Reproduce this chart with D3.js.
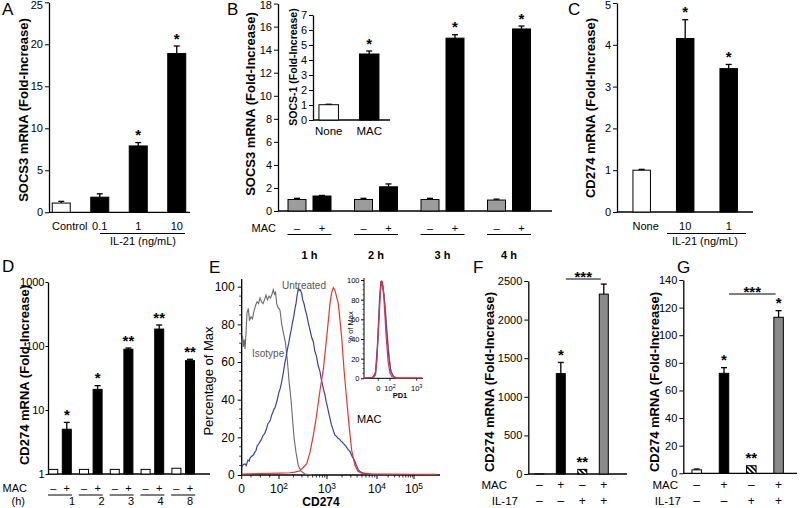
<!DOCTYPE html>
<html><head><meta charset="utf-8">
<script src="https://cdn.jsdelivr.net/npm/d3@7"></script>
<style>
body{margin:0;background:#fff;}
svg{display:block;}
</style></head><body>
<svg id="chart" width="800" height="508"></svg>
<script>
// ================= DATA =================
// Panel A
const aCategories = ["Control", "0.1", "1", "10"];
const aValues = [1.1, 1.8, 7.9, 18.9];
const aErrors = [0.2, 0.4, 0.4, 0.9];
const aStars = ["", "", "*", "*"];
const aTicks = [0, 5, 10, 15, 20, 25];

// Panel B
const bTimes = ["1 h", "2 h", "3 h", "4 h"];
const macSigns = ["–", "+"];
const bNoMac = [1.0, 1.0, 1.0, 0.95];
const bNoMacErr = [0.1, 0.1, 0.1, 0.08];
const bWithMac = [1.3, 2.1, 15.0, 15.8];
const bWithMacErr = [0.05, 0.25, 0.3, 0.25];
const bStars = ["", "", "*", "*"];
const bTicks = [0, 2, 4, 6, 8, 10, 12, 14, 16, 18];
const bInsetCategories = ["None", "MAC"];
const bInsetValues = [1.02, 4.4];
const bInsetErrors = [0.03, 0.2];
const bInsetStars = ["", "*"];
const bInsetTicks = [0, 1, 2, 3, 4, 5, 6, 7];

// Panel C
const cCategories = ["None", "10", "1"];
const cValues = [1.0, 4.15, 3.43];
const cErrors = [0.02, 0.45, 0.1];
const cStars = ["", "*", "*"];
const cTicks = [0, 1, 2, 3, 4, 5];

// Panel D
const dHours = ["1", "2", "3", "4", "8"];
const dNoMac = [1.18, 1.18, 1.18, 1.18, 1.23];
const dWithMac = [5.0, 21, 89, 184, 59];
const dWithMacErr = [1.4, 3, 4, 29, 3];
const dStars = ["*", "*", "**", "**", "**"];
const dTicks = [1, 10, 100, 1000];

// Panel E (flow cytometry histograms; x in display channel units, y in % of max)
const eTickChannels = [0, 37.3, 85.3, 135.3, 172.3];
const eTickExponents = [null, 2, 3, 4, 5];
const eYTicks = [0, 20, 40, 60, 80, 100];
const isotypeCurve = [[0,70],[0.8,74],[1.6,68],[2.5,72],[3.3,67],[4.3,75],[5.3,86],[6.6,88.5],[7.8,82],[9.3,84],[10.8,83],[12.3,87],[13.8,90],[15.3,92],[16.8,91],[18.3,94],[19.8,92],[21.3,91],[22.8,93],[24.3,95.5],[25.8,93],[27.3,95],[28.8,94],[30.3,96],[31.6,98.5],[32.8,96],[33.8,97],[35,91],[36.3,89],[38.3,87.5],[40,80],[42.3,74],[43.8,70],[45.8,60],[47.3,50],[49.3,40],[50.8,30],[52.3,20],[54.3,12],[56.6,5],[59.3,2],[63.3,0.5],[70.3,0]];
const untreatedCurve = [[0,4],[1.5,5.5],[3.3,6],[4.5,5],[6.3,8],[7.5,7.5],[8.3,9],[10,10],[11.6,10.6],[13,12],[14.3,13],[15.5,15.5],[16.3,16],[17.5,17],[18.3,17.7],[19.8,19],[21.3,21],[23,22],[25,24.8],[26,27],[27.3,28],[28.5,29],[30,31.9],[31,33],[32.3,35],[33.5,36],[35,38.9],[36,41],[37.3,44],[38.5,46],[40,49.5],[41.8,55],[43.3,60],[44.5,63],[45.8,67],[47,70],[48.3,74],[49.5,77],[50.8,81],[52,84],[53.3,88.5],[54.3,91],[55.3,95],[56.6,99],[57.5,98],[58.3,98.5],[60,96.5],[61,93],[62.3,91],[63.5,88],[65,85],[66.5,81],[68.3,77],[70,73],[71.6,70.8],[73,66],[74.8,63],[76.5,58],[78.3,54.9],[79.5,51],[80.8,48],[82,45],[83.3,42.5],[84.5,39],[85.8,36],[87,33],[88.3,30.1],[89.5,27],[90.8,25],[92,23],[93.3,21.2],[94.8,20.5],[96.3,19.5],[97.8,19],[99.3,18],[100.5,17.5],[101.6,16.8],[103,16],[104.8,14.8],[106.5,13.5],[108.3,12.4],[109.5,11],[110.8,9.5],[112,8.5],[113.3,7],[114.3,5.5],[115.3,4.5],[116.6,2.7],[118,2],[119.3,1.5],[121.6,1],[125,0.5],[128.3,0.3],[138.3,0]];
const macCurve = [[0,0.5],[18,0.8],[38,1],[48,1.2],[53,1.5],[58,2.2],[61.5,4],[65,6],[68.3,12],[71.6,21],[75,32],[78.3,45],[81.6,56],[85,73],[88.3,91],[90,97],[91.6,99.5],[93.3,98],[96.6,91],[100,73],[102.3,56],[105,40],[107.6,25],[110,13],[113.3,5],[116.3,2],[120,1],[130,0.6],[150,0.5],[170,0.4],[195,0.3]];
// Panel E inset (PD1)
const eInsetTickChannels = [14.3, 26, 52.7];
const eInsetTickExponents = [null, 2, 3];
const eInsetYTicks = [0, 20, 40, 60, 80, 100];
const pd1Isotype = [[10,0.5],[12,5],[14,40],[16,85],[17.5,96],[19,95],[21.5,70],[24,35],[26.5,10],[29,2],[33,0]];
const pd1Untreated = [[0,0.5],[9,1],[11.5,6],[13.5,35],[15.5,80],[16.8,98],[18,97],[20,85],[22.5,50],[25,20],[27,6],[30,1.5],[34,0.3]];
const pd1Mac = [[0,0.5],[8,0.8],[11,3],[13,20],[15,60],[16.5,90],[17.5,99],[18.5,98],[20,80],[22,45],[24,18],[26,5],[28,1.5],[32,0.5],[58,0.5]];

// Panels F and G
const fgCategories = ["MAC-/IL17-", "MAC+/IL17-", "MAC-/IL17+", "MAC+/IL17+"];
const fgMacSigns = ["–", "+", "–", "+"];
const fgIL17Signs = ["–", "–", "+", "+"];
const fValues = [1, 1300, 60, 2330];
const fErrors = [0, 145, 0, 130];
const fStars = ["", "*", "**", ""];
const fTicks = [0, 500, 1000, 1500, 2000, 2500];
const gValues = [2.5, 72.4, 5.5, 113];
const gErrors = [0.6, 4.1, 0, 4.8];
const gStars = ["", "*", "**", "*"];
const gTicks = [0, 20, 40, 60, 80, 100, 120, 140];

// ================= DRAWING =================
const FONT = '"Liberation Sans", Arial, Helvetica, sans-serif';
const svg = d3.select("#chart").attr("font-family", FONT);
const defs = svg.append("defs");
const pat = defs.append("pattern").attr("id", "hatch").attr("patternUnits", "userSpaceOnUse")
  .attr("width", 5).attr("height", 5);
pat.append("rect").attr("width", 5).attr("height", 5).attr("fill", "#fff");
pat.append("path").attr("d", "M0,0 L5,5 M-1,4 L1,6 M4,-1 L6,1").attr("stroke", "#000").attr("stroke-width", 1.6);

const fillStyle = {white: "#fff", black: "#000", gray: "#9c9c9c", dgray: "#8a8a8a", hatch: "url(#hatch)"};

function band(domain, c0, step, bw) {
  const p = 1 - bw / step;
  return d3.scaleBand().domain(domain).range([c0 - step / 2, c0 - step / 2 + step * domain.length])
    .paddingInner(p).paddingOuter(p / 2);
}
function center(scale, d) { return scale(d) + scale.bandwidth() / 2; }

function leftAxis(scale, x, ticks, opts = {}) {
  const fs = opts.fontSize ?? 11;
  const ax = d3.axisLeft(scale).tickValues(ticks).tickSize(opts.tickSize ?? 4).tickSizeOuter(0)
    .tickPadding(opts.pad ?? 2).tickFormat(opts.format ?? d3.format("d"));
  const g = svg.append("g").attr("transform", `translate(${x},0)`).call(ax);
  g.attr("font-family", FONT).attr("font-size", fs);
  g.selectAll("text").attr("fill", "#000");
  // keep the top tick label inside the picture
  g.selectAll(".tick text").each(function(d) {
    const top = scale(d) - 0.4 * fs;
    if (top < 0.5) d3.select(this).attr("dy", (0.32 * fs + 0.5 - top) + "px");
  });
  g.selectAll(".tick line").attr("stroke", "#000").attr("stroke-width", 1);
  g.select(".domain").attr("stroke", "#000").attr("stroke-width", opts.lw ?? 1.3);
  return g;
}
function hline(x1, x2, y, w = 1.3) {
  svg.append("line").attr("x1", x1).attr("x2", x2).attr("y1", y).attr("y2", y)
    .attr("stroke", "#000").attr("stroke-width", w);
}
function bar(cx, w, y, v, base, fill) {
  svg.append("rect").attr("x", cx - w / 2).attr("y", y(v)).attr("width", w)
    .attr("height", Math.max(0, y(base) - y(v))).attr("fill", fill)
    .attr("stroke", "#000").attr("stroke-width", 1);
}
function errBar(cx, y, v, e, cap = 3) {
  if (!e) return;
  const y0 = y(v), y1 = y(v + e);
  svg.append("line").attr("x1", cx).attr("x2", cx).attr("y1", y0).attr("y2", y1).attr("stroke", "#000").attr("stroke-width", 1.3);
  svg.append("line").attr("x1", cx - cap).attr("x2", cx + cap).attr("y1", y1).attr("y2", y1).attr("stroke", "#000").attr("stroke-width", 1.3);
}
function star(cx, yTop, s, size = 15, gap = 11) {
  if (!s) return;
  svg.append("text").attr("x", cx).attr("y", yTop - gap + 0.57 * size).attr("text-anchor", "middle")
    .attr("font-size", size).attr("font-weight", "bold").text(s);
}
function text(x, y, s, opts = {}) {
  return svg.append("text").attr("x", x).attr("y", y).attr("text-anchor", opts.anchor ?? "middle")
    .attr("font-size", opts.size ?? 11).attr("font-weight", opts.weight ?? "normal")
    .attr("fill", opts.fill ?? "#000").text(s);
}
function vlabel(cx, cy, s, size = 13, weight = "bold") {
  svg.append("text").attr("transform", `translate(${cx},${cy}) rotate(-90)`).attr("text-anchor", "middle")
    .attr("dy", "0.35em").attr("font-size", size).attr("font-weight", weight).text(s);
}
function panelLetter(x, y, s) { text(x, y, s, {anchor: "start", size: 17}); }

// ---------- Panel A ----------
{
  const y = d3.scaleLinear().domain([0, 25]).range([212.3, 2.3]);
  const x = band(aCategories, 61.25, 38.5, 18);
  leftAxis(y, 49, aTicks);
  hline(49, 190, y(0));
  aCategories.forEach((c, i) => {
    const cx = center(x, c);
    errBar(cx, y, aValues[i], aErrors[i]);
    bar(cx, x.bandwidth(), y, aValues[i], 0, i === 0 ? fillStyle.white : fillStyle.black);
    star(cx, y(aValues[i] + aErrors[i]), aStars[i]);
    if (i === 0) text(52, 230, c, {anchor: "start"});
    else text(cx, 230, c);
  });
  hline(100, 185, 233.5, 1);
  text(143, 245, "IL-21 (ng/mL)");
  vlabel(23, 110, "SOCS3 mRNA (Fold-Increase)");
  panelLetter(2, 15, "A");
}

// ---------- Panel B ----------
{
  const y = d3.scaleLinear().domain([0, 18]).range([211, 3.6]);
  const xg = d3.scaleBand().domain(bTimes).range([276.25, 542.25]).padding(0);
  const xi = band(macSigns, xg.step() / 2 - 12.5, 25, 18);
  leftAxis(y, 278, bTicks);
  hline(278, 552, y(0));
  bTimes.forEach((t, i) => {
    const g0 = xg(t);
    const cNo = g0 + center(xi, "–"), cMac = g0 + center(xi, "+");
    errBar(cNo, y, bNoMac[i], bNoMacErr[i]);
    bar(cNo, xi.bandwidth(), y, bNoMac[i], 0, fillStyle.gray);
    errBar(cMac, y, bWithMac[i], bWithMacErr[i]);
    bar(cMac, xi.bandwidth(), y, bWithMac[i], 0, fillStyle.black);
    star(cMac, y(bWithMac[i] + bWithMacErr[i]), bStars[i]);
    text(cNo, 232, "–");
    text(cMac, 232, "+");
    const gc = g0 + xg.bandwidth() / 2;
    hline(gc - 22, gc + 22, 234.5, 1);
    text(gc, 259, t, {weight: "bold"});
  });
  text(276, 232, "MAC", {anchor: "end"});
  vlabel(250, 104, "SOCS3 mRNA (Fold-Increase)");
  panelLetter(227, 15, "B");

  // inset
  const yi = d3.scaleLinear().domain([0, 7]).range([120, 15]);
  const xIn = band(bInsetCategories, 328.7, 40.5, 19.5);
  leftAxis(yi, 313, bInsetTicks, {fontSize: 11});
  hline(313, 390, yi(0));
  bInsetCategories.forEach((c, i) => {
    const cx = center(xIn, c);
    errBar(cx, yi, bInsetValues[i], bInsetErrors[i]);
    bar(cx, xIn.bandwidth(), yi, bInsetValues[i], 0, i === 0 ? fillStyle.white : fillStyle.black);
    star(cx, yi(bInsetValues[i] + bInsetErrors[i]), bInsetStars[i]);
    text(cx, 135, c, {size: 11.5});
  });
  vlabel(293, 67, "SOCS-1 (Fold-Increase)", 10.5);
}

// ---------- Panel C ----------
{
  const y = d3.scaleLinear().domain([0, 5]).range([212, 3]);
  const x = band(cCategories, 641.7, 43.5, 17.5);
  leftAxis(y, 617, cTicks);
  hline(617, 753, y(0));
  cCategories.forEach((c, i) => {
    const cx = center(x, c);
    errBar(cx, y, cValues[i], cErrors[i]);
    bar(cx, x.bandwidth(), y, cValues[i], 0, i === 0 ? fillStyle.white : fillStyle.black);
    star(cx, y(cValues[i] + cErrors[i]), cStars[i]);
    text(i === 0 ? cx + 4 : cx, 230, c);
  });
  hline(667, 746, 233.5, 1);
  text(705, 245, "IL-21 (ng/mL)");
  vlabel(590, 108, "CD274 mRNA (Fold-Increase)");
  panelLetter(568, 15, "C");
}

// ---------- Panel D ----------
{
  const y = d3.scaleLog().domain([1, 1000]).range([474, 282]);
  const xg = d3.scaleBand().domain(dHours).range([44.6, 198.6]).padding(0);
  const xi = band(macSigns, xg.step() / 2 - 6.8, 13.6, 9);
  const xh = d3.scalePoint().domain(dHours).range([72, 190]);
  leftAxis(y, 48, dTicks, {format: d3.format("d"), tickSize: 2.5, pad: 1});
  hline(48, 210, y(1));
  dHours.forEach((h, i) => {
    const g0 = xg(h);
    const cNo = g0 + center(xi, "–"), cMac = g0 + center(xi, "+");
    bar(cNo, xi.bandwidth(), y, dNoMac[i], 1, fillStyle.white);
    errBar(cMac, y, dWithMac[i], dWithMacErr[i]);
    bar(cMac, xi.bandwidth(), y, dWithMac[i], 1, fillStyle.black);
    star(cMac, y(dWithMac[i] + dWithMacErr[i]), dStars[i]);
    text(cNo, 492, "–");
    text(cMac, 492, "+");
    const gc = g0 + xg.bandwidth() / 2;
    hline(gc - 12, gc + 12, 495, 1);
    text(xh(h), 505, h);
  });
  text(27, 492, "MAC", {anchor: "end"});
  text(25, 505, "(h)", {anchor: "end"});
  vlabel(24, 375, "CD274 mRNA (Fold-Increase)");
  panelLetter(2, 272, "D");
}

// ---------- Panel E ----------
function expLabel(sel, exp) {
  if (exp === null) { sel.text("0"); return; }
  sel.append("tspan").text("10");
  sel.append("tspan").attr("dy", "-0.45em").attr("font-size", "0.7em").text(exp);
}
{
  const x = d3.scaleLinear().domain([0, 200]).range([241.7, 441.7]);
  const y = d3.scaleLinear().domain([0, 100]).range([475, 286.7]);
  // y axis
  const ya = leftAxis(y, 241.7, eYTicks, {fontSize: 12, pad: 3});
  ya.select(".domain").attr("d", `M0,${y(0)}V${y(0) - 196}`);
  const minorY = d3.range(0, 101, 5).filter(v => v % 20 !== 0);
  svg.selectAll(null).data(minorY).enter().append("line")
    .attr("x1", 241.7 - 2.5).attr("x2", 241.7).attr("y1", d => y(d)).attr("y2", d => y(d))
    .attr("stroke", "#000").attr("stroke-width", 0.8);
  // x axis
  hline(241.7, 440, y(0), 1.3);
  eTickChannels.forEach((c, i) => {
    svg.append("line").attr("x1", x(c)).attr("x2", x(c)).attr("y1", y(0)).attr("y2", y(0) + 4).attr("stroke", "#000");
    const t = svg.append("text").attr("x", x(c)).attr("y", 493).attr("text-anchor", "middle").attr("font-size", 12);
    expLabel(t, eTickExponents[i]);
  });
  const minorX = [];
  for (let k = 1; k < eTickChannels.length - 1; k++) {
    const a = eTickChannels[k], b = eTickChannels[k + 1];
    for (let m = 2; m <= 9; m++) minorX.push(a + (b - a) * Math.log10(m));
  }
  [0.25, 0.5, 0.75].forEach(f => minorX.push(eTickChannels[1] * f));
  svg.selectAll(null).data(minorX).enter().append("line")
    .attr("x1", d => x(d)).attr("x2", d => x(d)).attr("y1", y(0)).attr("y2", y(0) + 2.5)
    .attr("stroke", "#000").attr("stroke-width", 0.8);

  const line = d3.line().x(d => x(d[0])).y(d => y(d[1]));
  svg.append("path").attr("d", line(isotypeCurve)).attr("fill", "none").attr("stroke", "#6a6a6a").attr("stroke-width", 1.1);
  svg.append("path").attr("d", line(untreatedCurve)).attr("fill", "none").attr("stroke", "#3a42a6").attr("stroke-width", 1.2);
  svg.append("path").attr("d", line(macCurve)).attr("fill", "none").attr("stroke", "#e8362e").attr("stroke-width", 1.2);

  text(304, 289, "Untreated", {size: 10, fill: "#555"});
  text(252, 357, "Isotype", {size: 10, fill: "#555", anchor: "start"});
  text(357, 423, "MAC", {size: 11, anchor: "start"});
  text(321, 506, "CD274", {size: 12, weight: "bold"});
  vlabel(208, 381, "Percentage of Max", 13, "normal");
  panelLetter(209, 273, "E");

  // inset
  const xi = d3.scaleLinear().domain([0, 60]).range([364, 424]);
  const yi = d3.scaleLinear().domain([0, 100]).range([378.3, 280]);
  const yia = leftAxis(yi, 364, eInsetYTicks, {fontSize: 7.5, tickSize: 3, pad: 1.5, lw: 1});
  yia.select(".domain").attr("d", `M0,${yi(0)}V${yi(100) - 2}`);
  svg.selectAll(null).data(d3.range(0, 101, 5).filter(v => v % 20 !== 0)).enter().append("line")
    .attr("x1", 362.5).attr("x2", 364).attr("y1", d => yi(d)).attr("y2", d => yi(d)).attr("stroke", "#000").attr("stroke-width", 0.6);
  hline(364, 423, yi(0), 1);
  eInsetTickChannels.forEach((c, i) => {
    svg.append("line").attr("x1", xi(c)).attr("x2", xi(c)).attr("y1", yi(0)).attr("y2", yi(0) + 2.5).attr("stroke", "#000").attr("stroke-width", 0.8);
    const t = svg.append("text").attr("x", xi(c)).attr("y", 390.5).attr("text-anchor", "middle").attr("font-size", 7.5);
    expLabel(t, eInsetTickExponents[i]);
  });
  const lineI = d3.line().x(d => xi(d[0])).y(d => yi(d[1]));
  svg.append("path").attr("d", lineI(pd1Isotype)).attr("fill", "none").attr("stroke", "#808080").attr("stroke-width", 1);
  svg.append("path").attr("d", lineI(pd1Untreated)).attr("fill", "none").attr("stroke", "#5a3f9e").attr("stroke-width", 1.2);
  svg.append("path").attr("d", lineI(pd1Mac)).attr("fill", "none").attr("stroke", "#e0304a").attr("stroke-width", 1.2);
  text(400, 398, "PD1", {size: 7.5, weight: "bold"});
  vlabel(350, 327, "% of Max", 7.5, "normal");
}

// ---------- Panels F & G ----------
function fgPanel(cfg) {
  const y = d3.scaleLinear().domain(cfg.domain).range(cfg.range);
  const x = band(fgCategories, cfg.c0, cfg.step, cfg.bw);
  leftAxis(y, cfg.axisX, cfg.ticks);
  hline(cfg.axisX, cfg.axisEnd, y(0));
  const fills = [fillStyle.white, fillStyle.black, fillStyle.hatch, fillStyle.dgray];
  fgCategories.forEach((c, i) => {
    const cx = center(x, c);
    errBar(cx, y, cfg.values[i], cfg.errors[i]);
    bar(cx, x.bandwidth(), y, cfg.values[i], 0, fills[i]);
    star(cx, y(cfg.values[i] + cfg.errors[i]), cfg.stars[i]);
    text(cx, 489, fgMacSigns[i], {size: 12});
    text(cx, 505, fgIL17Signs[i], {size: 12});
  });
  text(cfg.macX, 489, "MAC", {anchor: "end", size: 11.5});
  text(cfg.ilX, 505, "IL-17", {anchor: "end", size: 11.5});
  // *** comparison bracket
  const x1 = center(x, fgCategories[1]) + 5, x2 = center(x, fgCategories[3]) - 3;
  hline(x1, x2, cfg.bracketY, 1);
  star((x1 + x2) / 2, cfg.bracketY, "***", 15, 6);
  vlabel(cfg.labelX, 382, "CD274 mRNA (Fold-Increase)");
  panelLetter(cfg.letterX, 273, cfg.letter);
}
fgPanel({domain: [0, 2500], range: [474, 281], c0: 539.3, step: 21.5, bw: 9, axisX: 528.3, axisEnd: 627,
  ticks: fTicks, values: fValues, errors: fErrors, stars: fStars, macX: 507, ilX: 518,
  bracketY: 279, labelX: 489, letterX: 473, letter: "F"});
fgPanel({domain: [0, 140], range: [473.3, 280], c0: 696.7, step: 27.3, bw: 9.5, axisX: 683.3, axisEnd: 797,
  ticks: gTicks, values: gValues, errors: gErrors, stars: gStars, macX: 678, ilX: 681,
  bracketY: 294, labelX: 654, letterX: 677, letter: "G"});
</script>
</body></html>
